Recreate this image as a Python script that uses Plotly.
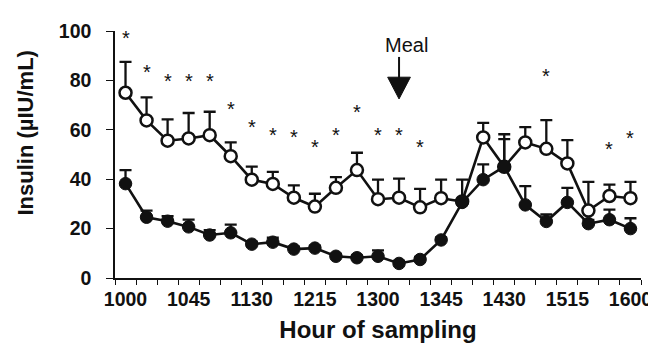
import plotly.graph_objects as go

# ---- data ----
times = ["1000", "1015", "1030", "1045", "1100", "1115", "1130", "1145", "1200",
         "1215", "1230", "1245", "1300", "1315", "1330", "1345", "1400", "1415",
         "1430", "1445", "1500", "1515", "1530", "1545", "1600"]
tick_labels = ["1000", "1045", "1130", "1215", "1300", "1345", "1430", "1515", "1600"]

open_mean = [75.0, 63.8, 55.6, 56.5, 57.8, 49.3, 39.8, 38.1, 32.5, 28.9, 36.5, 43.7, 31.9,
             32.5, 28.6, 32.3, 31.0, 56.9, 45.0, 54.9, 52.3, 46.4, 27.3, 33.2, 32.3]
open_sem = [12.5, 9.3, 8.6, 10.3, 9.5, 5.6, 5.3, 4.9, 5.0, 5.2, 4.3, 7.0, 7.9,
            7.7, 7.5, 7.5, 8.8, 5.9, 13.2, 6.2, 11.6, 9.4, 11.6, 4.6, 6.6]

filled_mean = [38.2, 24.6, 23.0, 20.7, 17.4, 18.3, 13.7, 14.5, 11.7, 12.1, 8.8, 8.2, 8.8,
               5.9, 7.5, 15.4, 30.6, 39.8, 45.1, 29.6, 22.9, 30.6, 22.0, 23.6, 20.0]
filled_sem = [5.5, 2.7, 2.0, 2.9, 2.0, 3.3, 1.0, 1.8, 1.0, 1.0, 1.0, 1.0, 2.4,
              1.0, 1.0, 1.0, 1.5, 6.2, 11.1, 7.6, 2.8, 5.9, 1.5, 4.1, 4.2]

sig_times = ["1000", "1015", "1030", "1045", "1100", "1115", "1130", "1145", "1200",
             "1215", "1230", "1245", "1300", "1315", "1330", "1500", "1545", "1600"]
sig_y = [92.5, 78.7, 74.7, 74.7, 74.7, 63.5, 56.2, 53.0, 52.3,
         48.3, 53.0, 62.5, 53.0, 53.0, 48.3, 77.1, 47.3, 51.9]

meal_time = "1315"

FONT = "Arial, Liberation Sans, Helvetica, sans-serif"
INK = "#111111"

xpos = list(range(len(times)))
fig = go.Figure()

fig.add_trace(go.Scatter(
    x=xpos, y=open_mean, mode="lines+markers",
    line=dict(color=INK, width=2.6),
    marker=dict(symbol="circle", size=12, color="white", line=dict(color=INK, width=2.5)),
    error_y=dict(type="data", array=open_sem, arrayminus=[0] * len(open_sem),
                 symmetric=False, color=INK, thickness=2.3, width=6),
    showlegend=False))

fig.add_trace(go.Scatter(
    x=xpos, y=filled_mean, mode="lines+markers",
    line=dict(color=INK, width=2.6),
    marker=dict(symbol="circle", size=12.5, color=INK, line=dict(color=INK, width=1)),
    error_y=dict(type="data", array=filled_sem, arrayminus=[0] * len(filled_sem),
                 symmetric=False, color=INK, thickness=2.3, width=6),
    showlegend=False))

# significance asterisks
for t, yv in zip(sig_times, sig_y):
    fig.add_annotation(x=times.index(t), y=yv, xref="x", yref="y", text="*",
                       showarrow=False, xanchor="center", yanchor="middle", yshift=12,
                       font=dict(family=FONT, size=20, color=INK))

# Meal arrow
mx = times.index(meal_time)
fig.add_shape(type="line", xref="x", yref="y", x0=mx, x1=mx, y0=89.5, y1=80,
              line=dict(color=INK, width=2))
fig.add_shape(type="path", xref="x", yref="y",
              path=f"M {mx-0.54},81.3 L {mx+0.54},81.3 L {mx},72.5 Z",
              fillcolor=INK, line=dict(color=INK, width=1))
fig.add_annotation(x=mx, y=94.5, xref="x", yref="y", text="Meal", showarrow=False,
                   xshift=7, font=dict(family=FONT, size=20, color=INK),
                   xanchor="center", yanchor="middle")

# y-axis title
fig.add_annotation(x=0, y=0.585, xref="paper", yref="paper", xshift=-89,
                   text="Insulin (µIU/mL)", textangle=-90, showarrow=False,
                   xanchor="center", yanchor="middle",
                   font=dict(family=FONT, size=22, color=INK, weight="bold"))

fig.update_layout(
    width=656, height=357,
    margin=dict(l=107, r=13, t=16, b=87),
    paper_bgcolor="white", plot_bgcolor="white",
    font=dict(family=FONT, color=INK),
)

fig.update_xaxes(
    range=[-0.5, len(times) - 0.5],
    tickmode="array",
    tickvals=[times.index(t) for t in tick_labels],
    ticktext=tick_labels,
    ticks="", showgrid=False, zeroline=False,
    tickfont=dict(family=FONT, size=19.5, color=INK, weight="bold"),
    ticklabelstandoff=3,
    showline=True, linecolor=INK, linewidth=1.5,
    minor=dict(tickmode="linear", tick0=-0.5, dtick=1, ticks="outside",
               ticklen=5, tickwidth=1.3, tickcolor=INK, showgrid=False),
    title=dict(text="Hour of sampling", standoff=12,
               font=dict(family=FONT, size=24, color=INK, weight="bold")),
)

fig.update_yaxes(
    range=[0, 100], tickmode="array", tickvals=[0, 20, 40, 60, 80, 100],
    ticks="outside", ticklen=7, tickwidth=1.3, tickcolor=INK,
    showgrid=False, zeroline=False,
    showline=True, linecolor=INK, linewidth=1.5,
    ticklabelstandoff=11,
    tickfont=dict(family=FONT, size=19.5, color=INK, weight="bold"),
)

fig.write_html("out.html")
